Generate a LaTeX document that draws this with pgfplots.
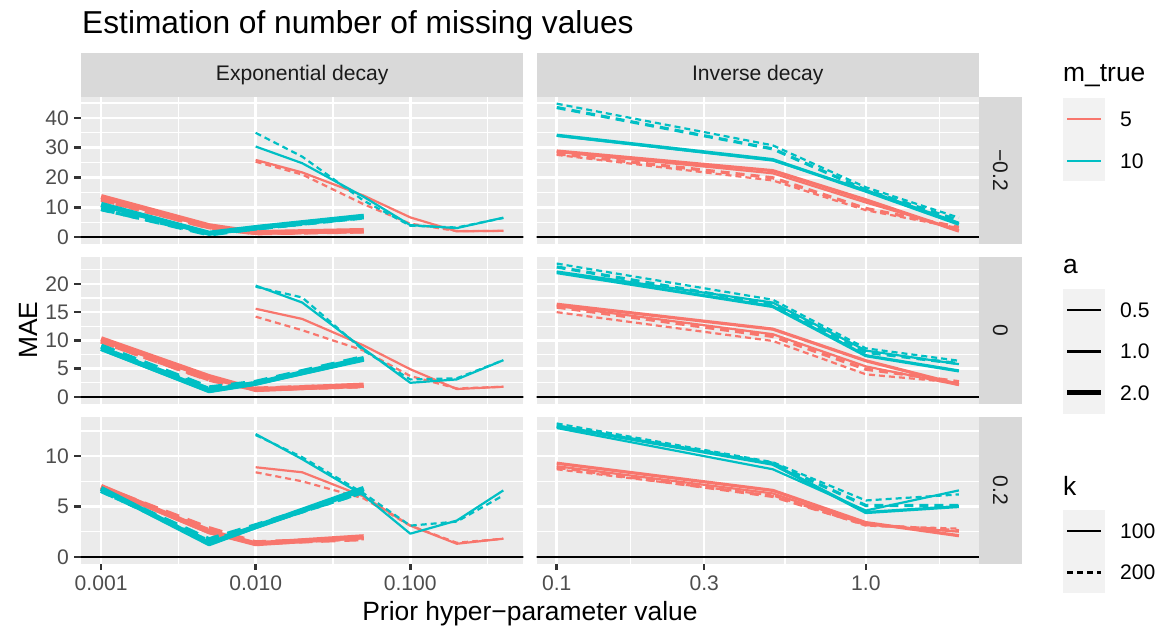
\documentclass[border=0pt]{standalone}
\usepackage{pgfplots}
\pgfplotsset{compat=1.18}
\usepackage{fontspec}
\setmainfont{Liberation Sans}

\definecolor{c5}{HTML}{F8766D}
\definecolor{c10}{HTML}{00BFC4}
\definecolor{gray92}{HTML}{EBEBEB}
\definecolor{gray85}{HTML}{D9D9D9}
\definecolor{gray95}{HTML}{F2F2F2}
\definecolor{gray30}{HTML}{4D4D4D}
\definecolor{gray20}{HTML}{333333}
\definecolor{gray10}{HTML}{1A1A1A}

\newcommand\ggtext{\fontsize{21.1pt}{25pt}\selectfont}
\newcommand\ggaxtitle{\fontsize{26.4pt}{31pt}\selectfont}
\newcommand\ggtitle{\fontsize{31.7pt}{38pt}\selectfont}

% line width by a, dash by k
\tikzset{
  s05/.style={line width=2.2pt},
  s1/.style={line width=3.2pt},
  s2/.style={line width=5pt},
  d05/.style={line width=2.2pt, dash pattern=on 6pt off 4pt},
  d1/.style={line width=3.2pt, dash pattern=on 9pt off 6pt},
  d2/.style={line width=5pt, dash pattern=on 14pt off 9pt},
}

\pgfplotsset{
  gg/.style={
    scale only axis, width=442.4pt, height=146.7pt, anchor=south west,
    axis background/.style={fill=gray92},
    axis line style={draw=none},
    grid=both,
    major grid style={white, line width=2.56pt},
    minor grid style={white, line width=1.28pt},
    tick align=outside, major tick length=6.6pt, minor tick length=0pt,
    tick style={gray20, line width=2.56pt},
    xtick pos=left, ytick pos=left,
    tick label style={font=\ggtext, text=gray30},
    /pgf/number format/assume math mode=true,
    yticklabel style={inner sep=0pt, xshift=-5.3pt},
    xticklabel style={inner sep=0pt, yshift=-5.3pt},
    every axis plot/.append style={line join=round, line cap=butt},
  },
  gE/.style={xmin=0.000741, xmax=0.5395,
    xtick={0.001,0.01,0.1}, xticklabels={0.001,0.010,0.100},
    minor xtick={0.0031623,0.031623,0.31623}},
  gI/.style={xmin=0.08610, xmax=2.3227,
    xtick={0.1,0.3,1}, xticklabels={0.1,0.3,1.0},
    minor xtick={0.17321,0.54772,1.7321}},
  rowA/.style={ymin=-2.24, ymax=47.04, ytick={0,10,20,30,40}, minor ytick={5,15,25,35,45}},
  rowB/.style={ymin=-1.18, ymax=24.78, ytick={0,5,10,15,20}, minor ytick={2.5,7.5,12.5,17.5,22.5}},
  rowC/.style={ymin=-0.6625, ymax=13.9125, ytick={0,5,10}, minor ytick={2.5,7.5,12.5}},
  noy/.style={yticklabels={}, ytick style={draw=none}},
  nox/.style={xticklabels={}, xtick style={draw=none}},
}

\begin{document}
\begin{tikzpicture}[x=1pt, y=1pt]
\useasboundingbox (0,0) rectangle (1167,635);

% ---------- Exponential decay, -0.2 ----------
\begin{axis}[xmode=log, gg, gE, rowA, nox, at={(81pt,391.3pt)}]
\addplot[c5, s05] coordinates {(0.01,25.9) (0.02,21.7) (0.05,13.9) (0.1,6.6) (0.2,1.9) (0.4,2.1)};
\addplot[c5, d05] coordinates {(0.01,25.3) (0.02,21.0) (0.05,11.0) (0.1,4.5) (0.2,2.0) (0.4,2.0)};
\addplot[c5, s1] coordinates {(0.001,13.2) (0.005,3.5) (0.01,1.3) (0.05,1.9)};
\addplot[c5, d1] coordinates {(0.001,12.3) (0.005,3.1) (0.01,1.2) (0.05,1.8)};
\addplot[c5, s2] coordinates {(0.001,13.6) (0.005,3.8) (0.01,1.5) (0.05,2.2)};
\addplot[c5, d2] coordinates {(0.001,12.8) (0.005,3.3) (0.01,1.4) (0.05,2.0)};
\addplot[c10, s05] coordinates {(0.01,30.4) (0.02,24.8) (0.05,13.5) (0.1,4.0) (0.2,3.0) (0.4,6.5)};
\addplot[c10, d05] coordinates {(0.01,35.0) (0.02,27.0) (0.05,12.2) (0.1,3.8) (0.2,3.2) (0.4,6.4)};
\addplot[c10, s1] coordinates {(0.001,10.5) (0.005,1.2) (0.01,2.9) (0.05,6.6)};
\addplot[c10, d1] coordinates {(0.001,9.2) (0.005,1.0) (0.01,2.7) (0.05,6.4)};
\addplot[c10, s2] coordinates {(0.001,11.0) (0.005,1.3) (0.01,3.2) (0.05,7.0)};
\addplot[c10, d2] coordinates {(0.001,9.6) (0.005,1.0) (0.01,3.0) (0.05,6.8)};
\addplot[black, line width=2.3pt] coordinates {(0.0005,0) (0.6,0)};
\end{axis}

% ---------- Inverse decay, -0.2 ----------
\begin{axis}[xmode=log, gg, gI, rowA, nox, noy, at={(536.6pt,391.3pt)}]
\addplot[c5, s05] coordinates {(0.1,28.6) (0.5,21.4) (1,11.6) (2,2.4)};
\addplot[c5, d05] coordinates {(0.1,27.6) (0.5,19.0) (1,9.0) (2,3.0)};
\addplot[c5, s1] coordinates {(0.1,28.9) (0.5,22.3) (1,12.5) (2,2.0)};
\addplot[c5, d1] coordinates {(0.1,28.0) (0.5,19.9) (1,9.6) (2,3.3)};
\addplot[c10, s05] coordinates {(0.1,34.0) (0.5,25.7) (1,15.8) (2,4.8)};
\addplot[c10, d05] coordinates {(0.1,44.8) (0.5,30.8) (1,16.7) (2,6.5)};
\addplot[c10, s1] coordinates {(0.1,34.2) (0.5,26.0) (1,15.4) (2,4.3)};
\addplot[c10, d1] coordinates {(0.1,43.5) (0.5,29.6) (1,15.8) (2,5.6)};
\addplot[black, line width=2.3pt] coordinates {(0.05,0) (3,0)};
\end{axis}

% ---------- Exponential decay, 0 ----------
\begin{axis}[xmode=log, gg, gE, rowB, nox, at={(81pt,231.4pt)}]
\addplot[c5, s05] coordinates {(0.01,15.6) (0.02,13.8) (0.05,9.1) (0.1,4.9) (0.2,1.4) (0.4,1.8)};
\addplot[c5, d05] coordinates {(0.01,14.2) (0.02,11.8) (0.05,8.2) (0.1,3.7) (0.2,1.5) (0.4,1.8)};
\addplot[c5, s1] coordinates {(0.001,10.0) (0.005,3.4) (0.01,1.2) (0.05,1.9)};
\addplot[c5, d1] coordinates {(0.001,9.7) (0.005,3.0) (0.01,1.3) (0.05,1.8)};
\addplot[c5, s2] coordinates {(0.001,10.3) (0.005,3.6) (0.01,1.3) (0.05,2.1)};
\addplot[c5, d2] coordinates {(0.001,9.9) (0.005,3.1) (0.01,1.4) (0.05,2.0)};
\addplot[c10, s05] coordinates {(0.01,19.7) (0.02,16.7) (0.05,8.5) (0.1,2.5) (0.2,3.1) (0.4,6.5)};
\addplot[c10, d05] coordinates {(0.01,19.5) (0.02,17.6) (0.05,8.2) (0.1,3.1) (0.2,3.3) (0.4,6.5)};
\addplot[c10, s1] coordinates {(0.001,8.4) (0.005,1.0) (0.01,2.3) (0.05,6.5)};
\addplot[c10, d1] coordinates {(0.001,8.8) (0.005,1.5) (0.01,2.5) (0.05,6.8)};
\addplot[c10, s2] coordinates {(0.001,8.6) (0.005,1.1) (0.01,2.4) (0.05,6.8)};
\addplot[c10, d2] coordinates {(0.001,9.0) (0.005,1.6) (0.01,2.6) (0.05,7.0)};
\addplot[black, line width=2.3pt] coordinates {(0.0005,0) (0.6,0)};
\end{axis}

% ---------- Inverse decay, 0 ----------
\begin{axis}[xmode=log, gg, gI, rowB, nox, noy, at={(536.6pt,231.4pt)}]
\addplot[c5, s05] coordinates {(0.1,16.1) (0.5,11.1) (1,5.4) (2,2.1)};
\addplot[c5, d05] coordinates {(0.1,15.0) (0.5,9.9) (1,4.0) (2,2.5)};
\addplot[c5, s1] coordinates {(0.1,16.4) (0.5,12.0) (1,6.4) (2,2.2)};
\addplot[c5, d1] coordinates {(0.1,15.9) (0.5,10.7) (1,4.9) (2,2.7)};
\addplot[c10, s05] coordinates {(0.1,22.2) (0.5,16.7) (1,8.2) (2,5.8)};
\addplot[c10, d05] coordinates {(0.1,23.6) (0.5,17.2) (1,8.6) (2,6.4)};
\addplot[c10, s1] coordinates {(0.1,22.0) (0.5,16.0) (1,7.3) (2,4.6)};
\addplot[c10, d1] coordinates {(0.1,23.0) (0.5,16.4) (1,7.9) (2,5.9)};
\addplot[black, line width=2.3pt] coordinates {(0.05,0) (3,0)};
\end{axis}

% ---------- Exponential decay, 0.2 ----------
\begin{axis}[xmode=log, gg, gE, rowC, at={(81pt,71.5pt)}]
\addplot[c5, s05] coordinates {(0.01,8.9) (0.02,8.4) (0.05,6.0) (0.1,3.1) (0.2,1.3) (0.4,1.8)};
\addplot[c5, d05] coordinates {(0.01,8.4) (0.02,7.5) (0.05,5.8) (0.1,3.1) (0.2,1.4) (0.4,1.8)};
\addplot[c5, s1] coordinates {(0.001,6.9) (0.005,2.4) (0.01,1.3) (0.05,1.9)};
\addplot[c5, d1] coordinates {(0.001,6.8) (0.005,2.7) (0.01,1.3) (0.05,1.8)};
\addplot[c5, s2] coordinates {(0.001,7.0) (0.005,2.5) (0.01,1.3) (0.05,2.0)};
\addplot[c5, d2] coordinates {(0.001,6.9) (0.005,2.8) (0.01,1.4) (0.05,1.8)};
\addplot[c10, s05] coordinates {(0.01,12.2) (0.02,9.7) (0.05,6.1) (0.1,2.3) (0.2,3.6) (0.4,6.6)};
\addplot[c10, d05] coordinates {(0.01,12.1) (0.02,9.9) (0.05,6.3) (0.1,3.1) (0.2,3.5) (0.4,6.1)};
\addplot[c10, s1] coordinates {(0.001,6.7) (0.005,1.3) (0.01,2.9) (0.05,6.6)};
\addplot[c10, d1] coordinates {(0.001,6.5) (0.005,1.6) (0.01,3.0) (0.05,6.4)};
\addplot[c10, s2] coordinates {(0.001,6.8) (0.005,1.3) (0.01,3.0) (0.05,6.8)};
\addplot[c10, d2] coordinates {(0.001,6.6) (0.005,1.7) (0.01,3.1) (0.05,6.5)};
\addplot[black, line width=2.3pt] coordinates {(0.0005,0) (0.6,0)};
\end{axis}

% ---------- Inverse decay, 0.2 ----------
\begin{axis}[xmode=log, gg, gI, rowC, noy, at={(536.6pt,71.5pt)}]
\addplot[c5, s05] coordinates {(0.1,9.0) (0.5,6.3) (1,3.2) (2,2.5)};
\addplot[c5, d05] coordinates {(0.1,8.7) (0.5,6.1) (1,3.1) (2,2.8)};
\addplot[c5, s1] coordinates {(0.1,9.3) (0.5,6.6) (1,3.4) (2,2.1)};
\addplot[c5, d1] coordinates {(0.1,8.9) (0.5,6.0) (1,3.2) (2,2.6)};
\addplot[c10, s05] coordinates {(0.1,12.8) (0.5,8.7) (1,4.6) (2,6.6)};
\addplot[c10, d05] coordinates {(0.1,13.25) (0.5,9.4) (1,5.6) (2,6.2)};
\addplot[c10, s1] coordinates {(0.1,13.0) (0.5,9.2) (1,4.4) (2,5.0)};
\addplot[c10, d1] coordinates {(0.1,13.0) (0.5,9.3) (1,5.1) (2,5.1)};
\addplot[black, line width=2.3pt] coordinates {(0.05,0) (3,0)};
\end{axis}

% ---------- facet strips ----------
\fill[gray85] (81,538) rectangle (523.4,582);
\fill[gray85] (536.6,538) rectangle (979,582);
\node[font=\ggtext, text=gray10] at (302.2,560) {Exponential decay};
\node[font=\ggtext, text=gray10] at (757.8,560) {Inverse decay};
\fill[gray85] (979,391.3) rectangle (1022,538);
\fill[gray85] (979,231.4) rectangle (1022,378.1);
\fill[gray85] (979,71.5) rectangle (1022,218.2);
\node[font=\ggtext, text=gray10, rotate=-90] at (1000.5,464.65) {−0.2};
\node[font=\ggtext, text=gray10, rotate=-90] at (1000.5,304.75) {0};
\node[font=\ggtext, text=gray10, rotate=-90] at (1000.5,144.85) {0.2};

% ---------- titles ----------
\node[anchor=base west, inner sep=0pt, font=\ggtitle] at (82,601.7) {Estimation of number of missing values};
\node[anchor=base, inner sep=0pt, font=\ggaxtitle] at (530,15) {Prior hyper−parameter value};
\node[rotate=90, inner sep=0pt, font=\ggaxtitle] at (28,305) {MAE};

% ---------- legends ----------
\node[anchor=base west, inner sep=0pt, font=\ggaxtitle] at (1063,553) {m\_true};
\fill[gray95] (1063,453.5) rectangle (1104.5,536.5);
\draw[c5, line width=2.3pt] (1067,516) -- (1100.5,516);
\draw[c10, line width=2.3pt] (1067,474) -- (1100.5,474);
\node[anchor=west, inner sep=0pt, font=\ggtext] at (1120,516) {5};
\node[anchor=west, inner sep=0pt, font=\ggtext] at (1120,474) {10};

\node[anchor=base west, inner sep=0pt, font=\ggaxtitle] at (1063,361) {a};
\fill[gray95] (1063,221) rectangle (1104.5,346);
\draw[black, s05] (1067,325) -- (1100.5,325);
\draw[black, s1] (1067,283.5) -- (1100.5,283.5);
\draw[black, s2] (1067,242) -- (1100.5,242);
\node[anchor=west, inner sep=0pt, font=\ggtext] at (1120,325) {0.5};
\node[anchor=west, inner sep=0pt, font=\ggtext] at (1120,283.5) {1.0};
\node[anchor=west, inner sep=0pt, font=\ggtext] at (1120,242) {2.0};

\node[anchor=base west, inner sep=0pt, font=\ggaxtitle] at (1063,140) {k};
\fill[gray95] (1063,42) rectangle (1104.5,125);
\draw[black, line width=2.3pt] (1067,104) -- (1100.5,104);
\draw[black, line width=2.3pt, dash pattern=on 6pt off 4pt] (1067,62.5) -- (1100.5,62.5);
\node[anchor=west, inner sep=0pt, font=\ggtext] at (1120,104) {100};
\node[anchor=west, inner sep=0pt, font=\ggtext] at (1120,62.5) {200};
\end{tikzpicture}
\end{document}
